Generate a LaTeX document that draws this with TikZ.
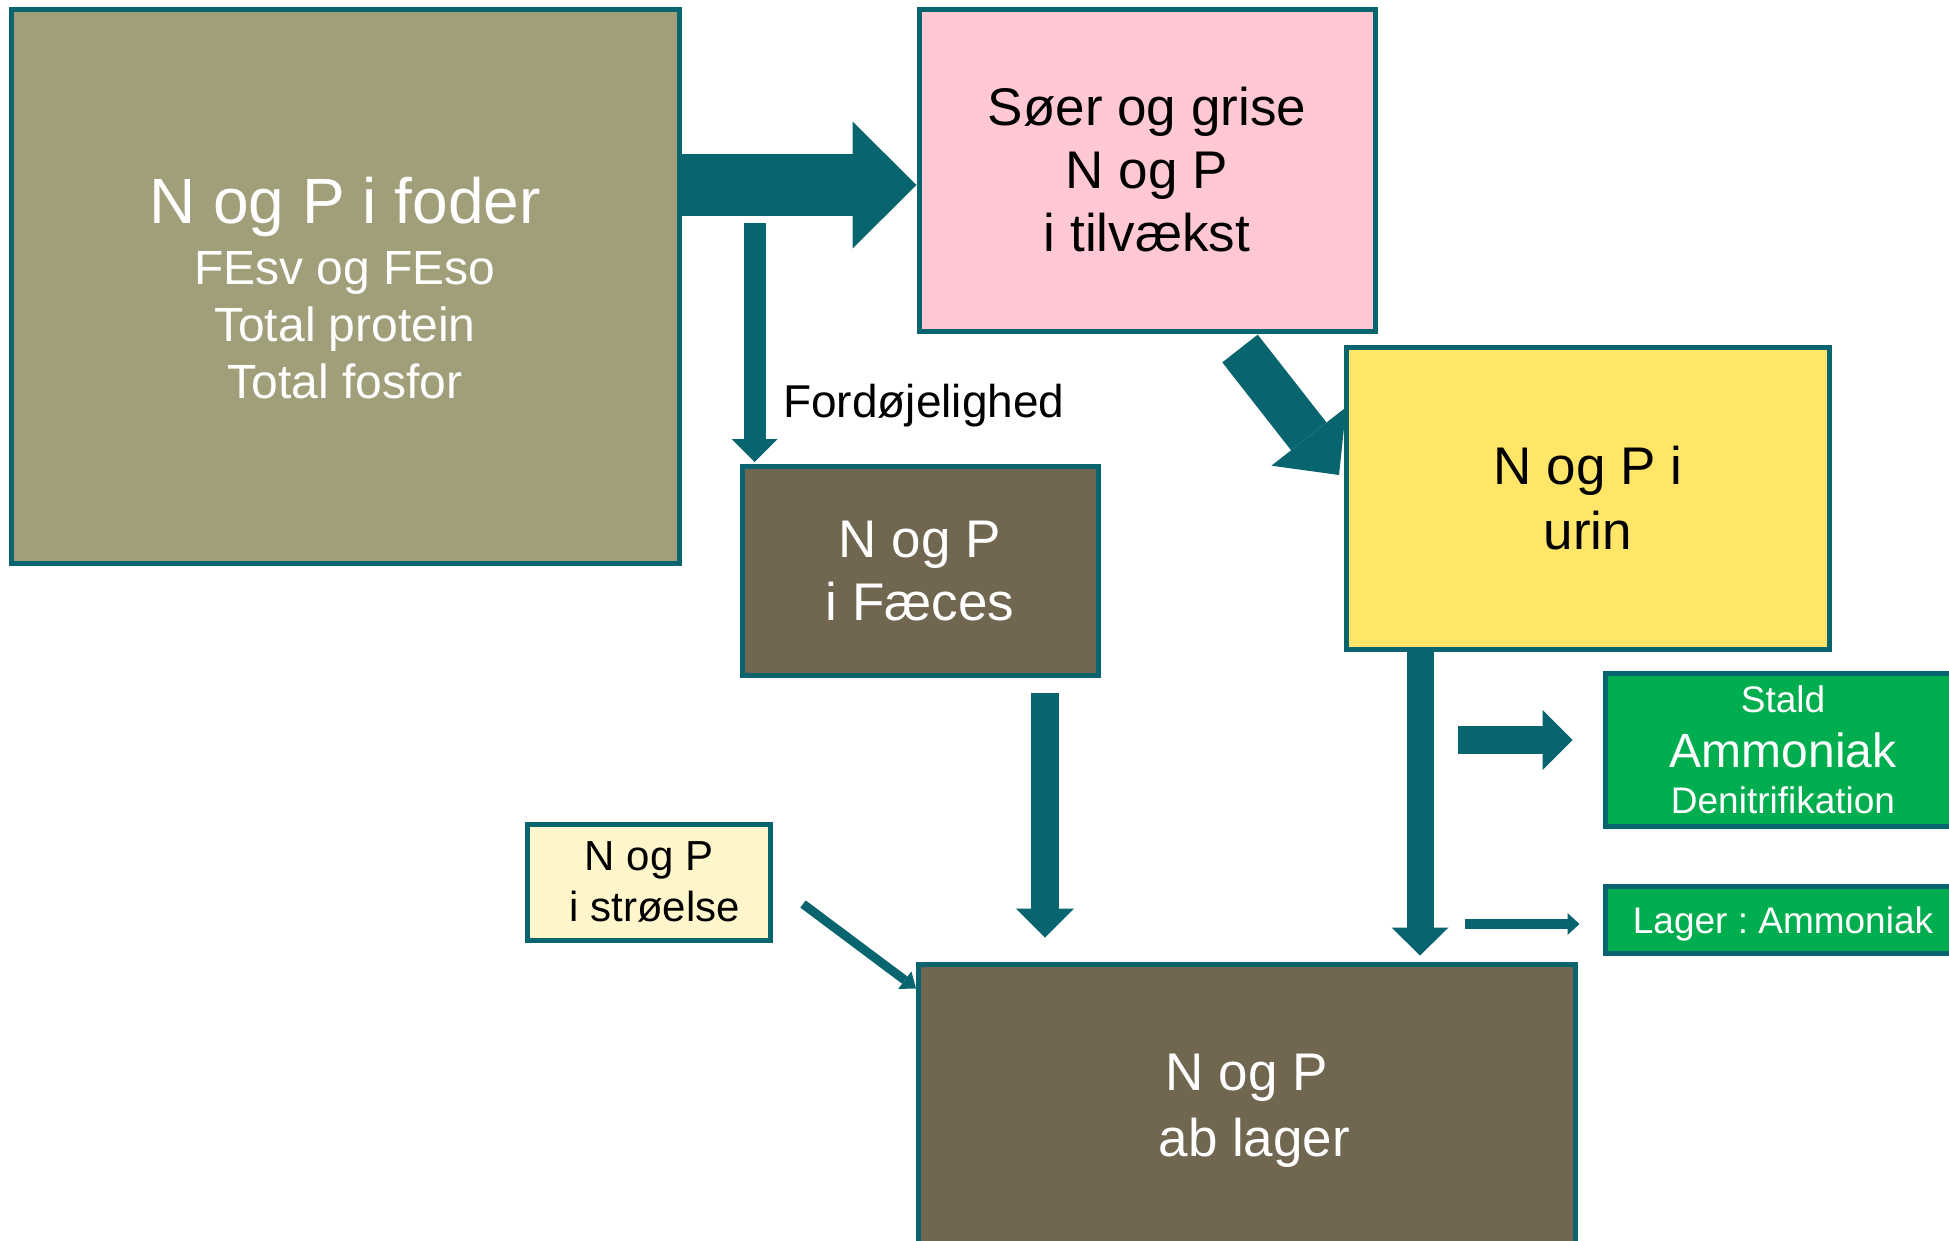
\documentclass[tikz,border=0pt]{standalone}
\usepackage{fontspec}
\setmainfont{Liberation Sans}
\usetikzlibrary{arrows.meta,calc}
\definecolor{tealline}{HTML}{08646F}
\definecolor{feedfill}{HTML}{A19E7A}
\definecolor{pigfill}{HTML}{FFC8D3}
\definecolor{urinefill}{HTML}{FFE568}
\definecolor{manurefill}{HTML}{716650}
\definecolor{lossfill}{HTML}{00AD4F}
\definecolor{strawfill}{HTML}{FFF6CC}
\pgfdeclarelayer{bg}
\pgfsetlayers{bg,main}
\frenchspacing
\begin{document}
\begin{tikzpicture}[x=1pt, y=-1pt, line join=miter,
	box/.style={draw=tealline, line width=5pt, align=center, inner sep=0pt},
	fat/.style n args={3}{draw=tealline, line width=#1pt, -{Triangle[width=#2pt, length=#3pt, line width=0pt]}}]
	\useasboundingbox (0,0) rectangle (1949,1240);
	\node[box, fill=feedfill, text=white, minimum width=668pt, minimum height=554pt,
		font=\fontsize{48}{57}\selectfont] (foder) at (345,286)
		{{\fontsize{64}{70}\selectfont\rule{0pt}{51pt}N og P i foder}\\[4pt]FEsv og FEso\\Total protein\\Total fosfor};
	\node[box, fill=pigfill, minimum width=456pt, minimum height=322pt,
		font=\fontsize{53}{63}\selectfont] (soer) at (1147,170) {Søer og grise\\N og P\\i tilvækst};
	\node[box, fill=urinefill, minimum width=483pt, minimum height=302pt,
		font=\fontsize{53}{65}\selectfont] (urin) at (1588,498) {N og P i\\urin};
	\node[box, fill=manurefill, text=white, minimum width=356pt, minimum height=209pt,
		font=\fontsize{53}{63}\selectfont] (faeces) at (920,571) {N og P\\i Fæces};
	\node[box, fill=lossfill, text=white, minimum width=356pt, minimum height=153pt,
		font=\fontsize{37}{50}\selectfont] (stald) at (1783,750) {Stald\\[5pt]{\fontsize{48}{50}\selectfont Ammoniak}\\[-4pt]Denitrifikation};
	\node[box, fill=lossfill, text=white, minimum width=356pt, minimum height=67pt, text depth=0pt,
		font=\fontsize{37}{44}\selectfont] (lagerluft) at (1783,920) {Lager : Ammoniak};
	\node[box, fill=strawfill, minimum width=243pt, minimum height=116pt,
		font=\fontsize{42}{51}\selectfont] (stroe) at (649,882) {N og P\\\hspace*{11.7pt}i strøelse};
	\node[box, fill=manurefill, text=white, minimum width=657pt, minimum height=294pt,
		font=\fontsize{53}{66}\selectfont] (ablager) at (1247,1111) {N og P\\\hspace*{14.7pt}ab lager};
	\node[anchor=west, inner sep=0pt, font=\fontsize{46}{52}\selectfont] (digest) at (783,406) {Fordøjelighed};
	\path
	($(soer.west)+(0,15)$) coordinate (feedtip)
	($(faeces.north west)+(15,-2)$) coordinate (digtip)
	(digtip |- 0,223) coordinate (digtop)
	($(faeces.south)+(125,15)$) coordinate (faetop)
	($(urin.south)+(-168,0)$) coordinate (urintop)
	($(stald.west)+(-30,-10)$) coordinate (staldtip)
	($(lagerluft.west)+(-23,4)$) coordinate (lagertip)
	;
	\begin{pgfonlayer}{bg}
	\draw[fat={62}{127}{64}] (foder.east |- feedtip) -- (feedtip);
	\draw[fat={22}{46}{23}] (digtop) -- (digtip);
	\draw[fat={45}{95}{49}] ($(soer.south)+(93,15)$) -- ($(urin.west)+(-5,-23)$);
	\draw[fat={28}{58}{29}] (faetop) -- ($(faetop |- ablager.north)+(0,-24)$);
	\draw[fat={27}{57}{28}] (urintop) -- ($(urintop |- ablager.north)+(0,-6)$);
	\draw[fat={28}{60}{30}] ($(staldtip)+(-115,0)$) -- (staldtip);
	\draw[fat={10}{22}{12}] ($(lagertip)+(-115,0)$) -- (lagertip);
	\draw[fat={9}{22}{14}] ($(stroe.east)+(30,22)$) -- ($(ablager.north west)+(0,27)$);
	\end{pgfonlayer}
\end{tikzpicture}
\end{document}
